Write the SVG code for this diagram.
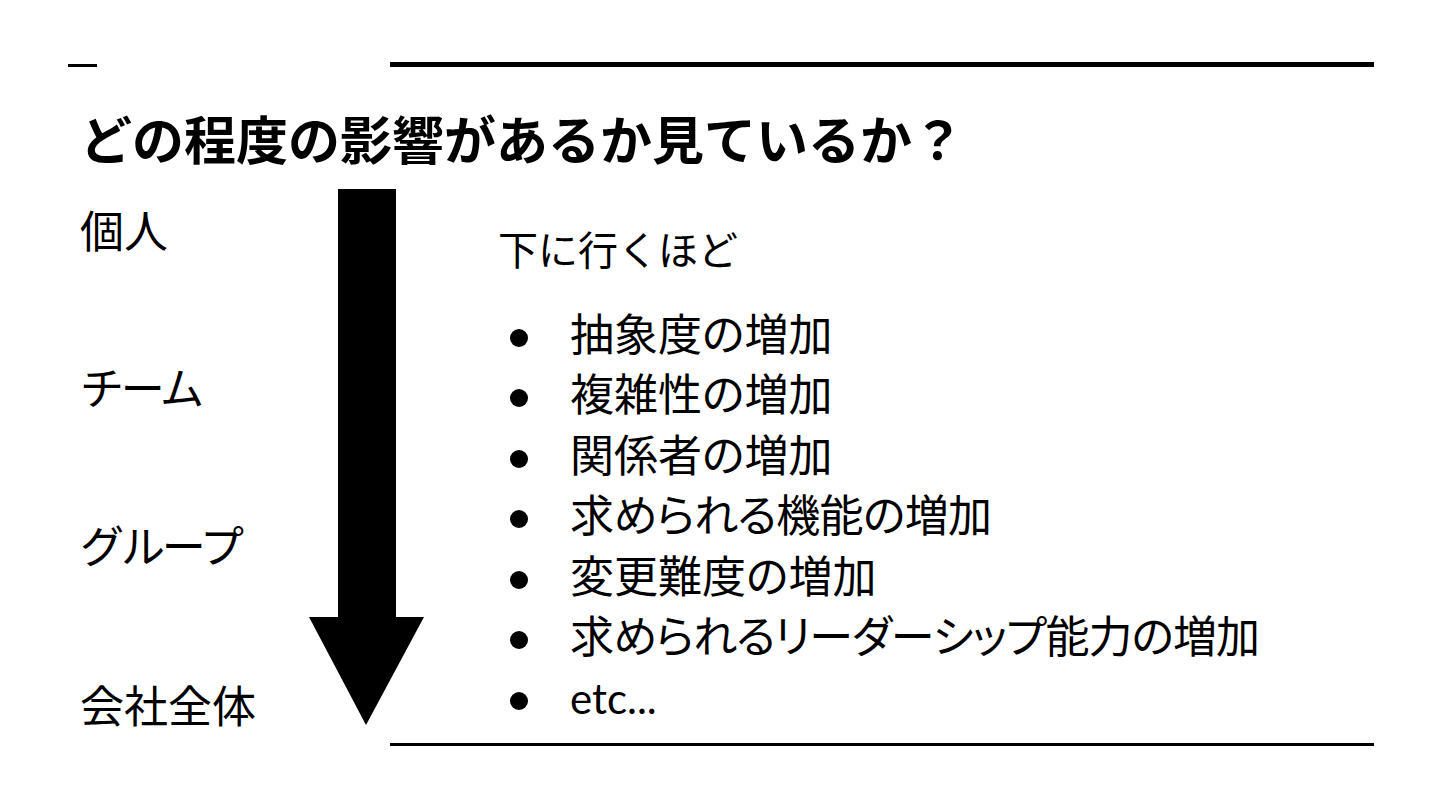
<svg xmlns="http://www.w3.org/2000/svg" width="1440" height="810" viewBox="0 0 1440 810">
<style>
.t{font-family:"Noto Sans CJK JP","Noto Sans",sans-serif;fill:#000}
.title{font-size:52px;font-weight:bold}
.lbl{font-size:44px}
.sub{font-size:40px}
.item{font-size:44px;font-feature-settings:"palt" 1}
.lat{font-family:Lato,"Noto Sans",sans-serif;font-size:42px}
</style>
<rect width="1440" height="810" fill="#fff"/>
<g id="rules">
<rect x="68" y="64" width="29" height="3" fill="#000"/>
<rect x="390" y="62" width="984" height="5" fill="#000"/>
<rect x="390" y="743" width="984" height="3" fill="#000"/>
</g>
<g id="title"><text class="t title" x="80" y="160">どの程度の影響があるか見ているか？</text></g>
<g id="connectors">
<polygon points="338,189 396,189 396,617 424,617 366,725 309,617 338,617" fill="#000"/>
</g>
<g id="n-kojin"><text class="t lbl" x="80" y="248">個人</text></g>
<g id="n-team"><text class="t lbl" x="80" y="405" textLength="124">チーム</text></g>
<g id="n-group"><text class="t lbl" x="80" y="563" textLength="164">グループ</text></g>
<g id="n-company"><text class="t lbl" x="80" y="723">会社全体</text></g>
<g id="list">
<text class="t sub" x="498" y="265">下に行くほど</text>
<g class="bullets">
<circle cx="519" cy="338" r="9"/>
<circle cx="519" cy="398" r="9"/>
<circle cx="519" cy="459" r="9"/>
<circle cx="519" cy="519" r="9"/>
<circle cx="519" cy="580" r="9"/>
<circle cx="519" cy="640" r="9"/>
<circle cx="519" cy="701" r="9"/>
</g>
<text class="t item" x="570" y="351">抽象度の増加</text>
<text class="t item" x="570" y="411">複雑性の増加</text>
<text class="t item" x="570" y="472">関係者の増加</text>
<text class="t item" x="570" y="532" textLength="422">求められる機能の増加</text>
<text class="t item" x="570" y="593">変更難度の増加</text>
<text class="t item" x="570" y="653" textLength="690">求められるリーダーシップ能力の増加</text>
<text class="lat" x="570" y="714">etc...</text>
</g>
</svg>
